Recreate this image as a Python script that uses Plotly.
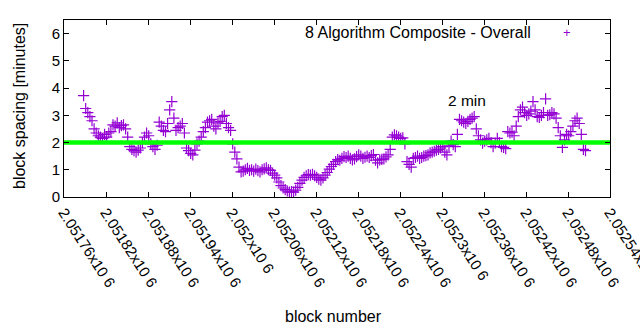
import plotly.graph_objects as go

FONT = "Liberation Sans, Arial, sans-serif"
PURPLE = "#9400d3"

block_start = 2051788
block_step = 3
spacing_minutes = [
    3.72, 3.25, 3.10, 2.95, 2.80, 2.50, 2.35, 2.25, 2.20, 2.15,
    2.30, 2.20, 2.35, 2.40, 2.65, 2.60, 2.72, 2.55, 2.62, 2.65,
    2.50, 2.20, 1.85, 1.75, 1.70, 1.65, 1.72, 1.80, 2.00, 2.20,
    2.35, 2.25, 1.95, 1.85, 1.75, 1.90, 2.75, 2.60, 2.45, 2.40,
    2.70, 3.20, 3.50, 2.90, 2.45, 2.55, 2.60, 2.70, 2.35, 1.80,
    1.70, 1.60, 1.55, 1.72, 1.95, 2.05, 2.20, 2.40, 2.55, 2.75,
    2.80, 2.85, 2.60, 2.50, 2.72, 2.78, 2.95, 3.00, 2.70, 2.55,
    2.45, 1.95, 1.65, 1.40, 1.10, 0.92, 0.95, 1.00, 1.05, 0.98,
    1.00, 0.95, 1.02, 0.97, 0.92, 1.00, 1.03, 1.07, 1.00, 0.98,
    0.88, 0.80, 0.70, 0.55, 0.42, 0.33, 0.27, 0.22, 0.18, 0.20,
    0.18, 0.25, 0.35, 0.50, 0.62, 0.72, 0.78, 0.82, 0.80, 0.83,
    0.78, 0.72, 0.66, 0.62, 0.70, 0.80, 0.90, 1.02, 1.12, 1.20,
    1.30, 1.37, 1.35, 1.42, 1.48, 1.45, 1.50, 1.42, 1.36, 1.40,
    1.48, 1.55, 1.50, 1.42, 1.46, 1.50, 1.45, 1.52, 1.56, 1.35,
    1.25, 1.36, 1.38, 1.40, 1.47, 1.55, 1.75, 2.20, 2.28, 2.25,
    2.20, 2.15, 2.17, 1.95, 1.30, 1.20, 1.10, 1.42, 1.45, 1.50,
    1.42, 1.45, 1.50, 1.52, 1.55, 1.62, 1.65, 1.68, 1.72, 1.75,
    1.80, 1.85, 1.65, 1.55, 1.88, 2.05, 1.92, 1.85, 2.30, 2.85,
    2.80, 2.75, 2.70, 2.78, 2.85, 2.90, 2.95, 2.50, 2.25, 2.10,
    1.98, 2.05, 2.10, 2.15, 2.00, 1.85, 1.98, 2.15, 2.00, 1.85,
    1.82, 1.78, 2.40, 2.35, 2.38, 2.25, 2.60, 2.95, 3.20, 3.30,
    3.10, 3.00, 3.05, 3.15, 3.50, 3.20, 2.95, 2.92, 3.00, 3.10,
    3.60, 3.00, 3.02, 3.10, 3.05, 2.90, 2.55, 2.25, 1.82, 2.10,
    2.30, 2.25, 2.40, 2.60, 2.80, 2.90, 2.70, 2.30, 1.75, 1.70,
]
block_numbers = [block_start + block_step * i for i in range(len(spacing_minutes))]

target_x = [2051760, 2052540]
target_y = [2, 2]

x_tick_vals = [2051760, 2051820, 2051880, 2051940, 2052000, 2052060, 2052120,
               2052180, 2052240, 2052300, 2052360, 2052420, 2052480, 2052540]
x_tick_text = ["2.05176x10 6", "2.05182x10 6", "2.05188x10 6", "2.05194x10 6",
               "2.052x10 6", "2.05206x10 6", "2.05212x10 6", "2.05218x10 6",
               "2.05224x10 6", "2.0523x10 6", "2.05236x10 6", "2.05242x10 6",
               "2.05248x10 6", "2.05254x10 6"]
y_tick_vals = [0, 1, 2, 3, 4, 5, 6]

fig = go.Figure()
fig.add_trace(go.Scatter(
    x=block_numbers, y=spacing_minutes, mode="markers",
    marker=dict(symbol="cross-thin", size=8, color=PURPLE,
                line=dict(width=1.2, color=PURPLE)),
    showlegend=False, cliponaxis=True,
))
fig.add_trace(go.Scatter(
    x=target_x, y=target_y, mode="lines",
    line=dict(color="#00ff00", width=4.5), showlegend=False,
))

axis_common = dict(
    showline=True, linecolor="black", linewidth=1, mirror="ticks",
    ticks="inside", ticklen=5, tickcolor="black", tickwidth=1,
    showgrid=False, zeroline=False, automargin=False,
)
fig.update_layout(
    template="none",
    width=640, height=330,
    margin=dict(l=64, r=30, t=20, b=133),
    paper_bgcolor="white", plot_bgcolor="white",
    font=dict(family=FONT, size=15, color="black"),
    xaxis=dict(range=[2051760, 2052540], tickvals=x_tick_vals,
               ticktext=x_tick_text, tickangle=57, ticklabeloverflow="allow",
               tickfont=dict(family=FONT, size=15, color="black"),
               **axis_common),
    yaxis=dict(range=[0, 6.5], tickvals=y_tick_vals,
               tickfont=dict(family=FONT, size=15, color="black"),
               **axis_common),
    annotations=[
        dict(text="8 Algorithm Composite - Overall", xref="paper", yref="paper",
             x=(533 - 64) / 546, y=(197 - 32) / 177, xanchor="right", yanchor="middle",
             showarrow=False, font=dict(family=FONT, size=16, color="black")),
        dict(text="+", xref="paper", yref="paper",
             x=(567 - 64) / 546, y=(197 - 32) / 177, xanchor="center", yanchor="middle",
             showarrow=False, font=dict(family=FONT, size=13, color=PURPLE)),
        dict(text="2 min", x=2052305, y=3.53, xanchor="left", yanchor="middle",
             showarrow=False, font=dict(family=FONT, size=15.5, color="black")),
        dict(text="block number", xref="paper", yref="paper",
             x=(333 - 64) / 546, y=(197 - 316) / 177, xanchor="center", yanchor="middle",
             showarrow=False, font=dict(family=FONT, size=16, color="black")),
        dict(text="block spacing [minutes]", xref="paper", yref="paper",
             x=(19 - 64) / 546, y=(197 - 106) / 177, xanchor="center", yanchor="middle",
             textangle=-90, showarrow=False,
             font=dict(family=FONT, size=16, color="black")),
    ],
)
fig.write_html("out.html")
